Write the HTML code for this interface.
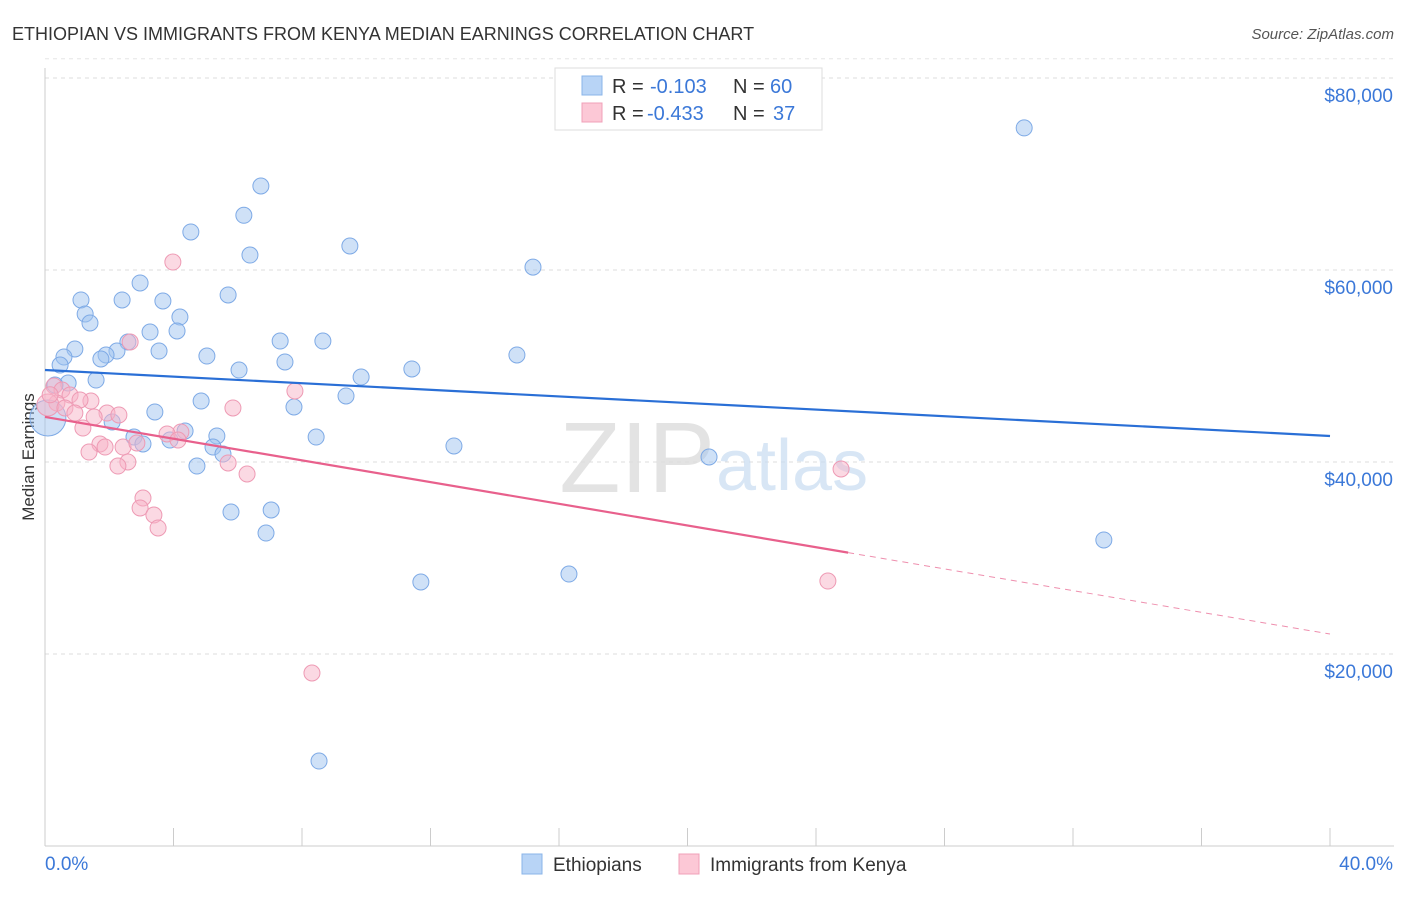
<!DOCTYPE html>
<html><head><meta charset="utf-8"><style>
body{margin:0;background:#fff;font-family:"Liberation Sans",sans-serif;}
svg text{font-family:"Liberation Sans",sans-serif;}
</style></head><body>
<svg id="chart" width="1406" height="892" xmlns="http://www.w3.org/2000/svg">
<text x="12" y="40" font-size="18" fill="#333">ETHIOPIAN VS IMMIGRANTS FROM KENYA MEDIAN EARNINGS CORRELATION CHART</text>
<text x="1394" y="39" font-size="15" fill="#555" text-anchor="end" font-style="italic">Source: ZipAtlas.com</text>
<text transform="translate(34,457) rotate(-90)" font-size="17" fill="#333" text-anchor="middle">Median Earnings</text>
<g id="grid"></g>
<text x="715" y="492" font-size="100" fill="#ddd" text-anchor="end" font-family="Liberation Serif" opacity="0.8">ZIP</text>
<text x="716" y="490" font-size="72" fill="#c8dcf2" opacity="0.7">atlas</text>
<g id="points"></g>
<g id="lines"></g>
<g>
<rect x="555" y="68" width="267" height="62" fill="#fff" stroke="#ddd"/>
<rect x="582" y="76" width="20" height="19" fill="#b8d4f6" stroke="#8ab4e8"/>
<rect x="582" y="103" width="20" height="19" fill="#fcc8d6" stroke="#f0a0b8"/>
<text x="612" y="93" font-size="20" fill="#333">R =</text>
<text x="650" y="93" font-size="20" fill="#3b78d8">-0.103</text>
<text x="733" y="93" font-size="20" fill="#333">N =</text>
<text x="770" y="93" font-size="20" fill="#3b78d8">60</text>
<text x="612" y="120" font-size="20" fill="#333">R =</text>
<text x="647" y="120" font-size="20" fill="#3b78d8">-0.433</text>
<text x="733" y="120" font-size="20" fill="#333">N =</text>
<text x="773" y="120" font-size="20" fill="#3b78d8">37</text>
</g>
<g>
<rect x="522" y="854" width="20" height="20" fill="#b8d4f6" stroke="#8ab4e8"/>
<text x="553" y="871" font-size="19" fill="#333">Ethiopians</text>
<rect x="679" y="854" width="20" height="20" fill="#fcc8d6" stroke="#f0a0b8"/>
<text x="710" y="871" font-size="19" fill="#333">Immigrants from Kenya</text>
</g>
</svg>
<script>
const yTicks=[20000,40000,60000,80000];
const yTickLabels=["$20,000","$40,000","$60,000","$80,000"];
const xTicks=[0,4,8,12,16,20,24,28,32,36,40];
const xEndLabels=["0.0%","40.0%"];
const blueX=[30.48,6.72,6.19,4.54,9.49,6.38,15.19,2.96,1.12,2.40,3.67,5.70,1.25,4.20,1.40,4.11,3.27,2.58,7.32,8.65,0.93,3.55,2.24,1.90,1.74,0.59,5.04,14.69,7.47,0.47,6.04,11.42,9.84,1.59,0.72,0.31,9.37,4.86,7.75,3.42,2.09,4.36,2.77,5.35,3.89,3.05,8.44,12.73,5.23,5.54,4.73,20.67,5.79,7.04,6.88,32.96,11.70,16.31,8.53,0.09];
const blueY=[74.8,68.75,65.7,63.96,62.5,61.56,60.3,58.65,56.88,56.88,56.77,57.4,55.42,55.1,54.48,53.65,53.54,52.5,52.6,52.6,51.77,51.56,51.56,51.15,50.73,50.94,51.04,51.15,50.42,50.1,49.58,49.69,48.85,48.54,48.23,48.02,46.88,46.35,45.73,45.21,44.17,43.23,42.6,42.71,42.29,41.88,42.6,41.67,41.56,40.83,39.58,40.52,34.79,35.0,32.6,31.88,27.5,28.33,8.85,44.58];
const pinkX=[3.98,2.65,7.78,0.28,0.53,0.78,0.37,1.43,1.09,0.09,0.62,0.93,1.93,2.30,1.53,5.85,1.18,4.23,3.80,4.14,1.71,1.87,2.43,2.86,1.37,2.58,2.27,5.70,6.29,24.78,3.05,2.96,3.39,3.52,24.37,8.31,0.16];
const pinkY=[60.83,52.5,47.4,47.92,47.5,46.98,46.15,46.35,46.46,45.94,45.63,45.1,45.1,44.9,44.69,45.63,43.54,43.13,42.92,42.29,41.88,41.56,41.56,41.98,41.04,40.0,39.58,39.9,38.75,39.27,36.25,35.21,34.48,33.13,27.6,18.02,47.0];
const blueTrend=[49.58,42.71];
const pinkTrend=[44.69,22.08];
const pinkSolidEnd=25;
const NS="http://www.w3.org/2000/svg";
const X=v=>45+v*32.125;
const Y=v=>846-v*0.0096;
const Yk=v=>Y(v*1000);
function mk(tag,attrs,parent){const e=document.createElementNS(NS,tag);for(const k in attrs)e.setAttribute(k,attrs[k]);parent.appendChild(e);return e;}
const grid=document.getElementById('grid');
yTicks.forEach((t,i)=>{
 const l=mk('line',{x1:45,x2:1394,y1:Y(t),y2:Y(t),stroke:'#ddd','stroke-dasharray':'4,4'},grid);
 
 
 const tx=mk('text',{x:1393,y:Y(t)+24,'font-size':19,fill:'#3b78d8','text-anchor':'end'},grid);
 tx.textContent=yTickLabels[i];
 
 
});
const topGrid=mk('line',{x1:45,x2:1394,y1:Y(82000),y2:Y(82000),stroke:'#e6e6e6','stroke-dasharray':'4,4'},grid);


const ax=mk('line',{x1:45,x2:1394,y1:846,y2:846,stroke:'#ccc'},grid);


const ay=mk('line',{x1:45,x2:45,y1:68,y2:846,stroke:'#ccc'},grid);


xTicks.forEach(t=>{
 const l=mk('line',{x1:X(t),x2:X(t),y1:828,y2:846,stroke:'#ccc'},grid);
 
 
});
[[0,'start',xEndLabels[0]],[40,'end',xEndLabels[1]]].forEach(([v,a,s])=>{
 const t=mk('text',{x:v===0?X(v):X(v)+63,y:870,'font-size':19,fill:'#3b78d8','text-anchor':a},grid);
 t.textContent=s;
 
 
});
const pts=document.getElementById('points');
blueX.forEach((x,i)=>{
 const big=(i===blueX.length-1);
 const c=mk('circle',{cx:X(x),cy:Yk(blueY[i]),r:big?18:8,fill:'rgba(160,196,240,0.5)',stroke:'#7eaae6','stroke-width':1},pts);
 
 
});
pinkX.forEach((x,i)=>{
 const c=mk('circle',{cx:X(x),cy:Yk(pinkY[i]),r:(i===9)?11:8,fill:'rgba(248,180,200,0.5)',stroke:'#ee9ab4','stroke-width':1},pts);
 
 
});
const lines=document.getElementById('lines');
const bl=mk('line',{x1:X(0),y1:Yk(blueTrend[0]),x2:X(40),y2:Yk(blueTrend[1]),stroke:'#2a6fd6','stroke-width':2.2},lines);


const pAt=x=>pinkTrend[0]+(pinkTrend[1]-pinkTrend[0])*x/40;
const pl=mk('line',{x1:X(0),y1:Yk(pAt(0)),x2:X(pinkSolidEnd),y2:Yk(pAt(pinkSolidEnd)),stroke:'#e8608c','stroke-width':2.2},lines);


const pd=mk('line',{x1:X(pinkSolidEnd),y1:Yk(pAt(pinkSolidEnd)),x2:X(40),y2:Yk(pAt(40)),stroke:'#e8608c','stroke-width':1,'stroke-dasharray':'6,5',opacity:0.7},lines);


</script>
</body></html>
